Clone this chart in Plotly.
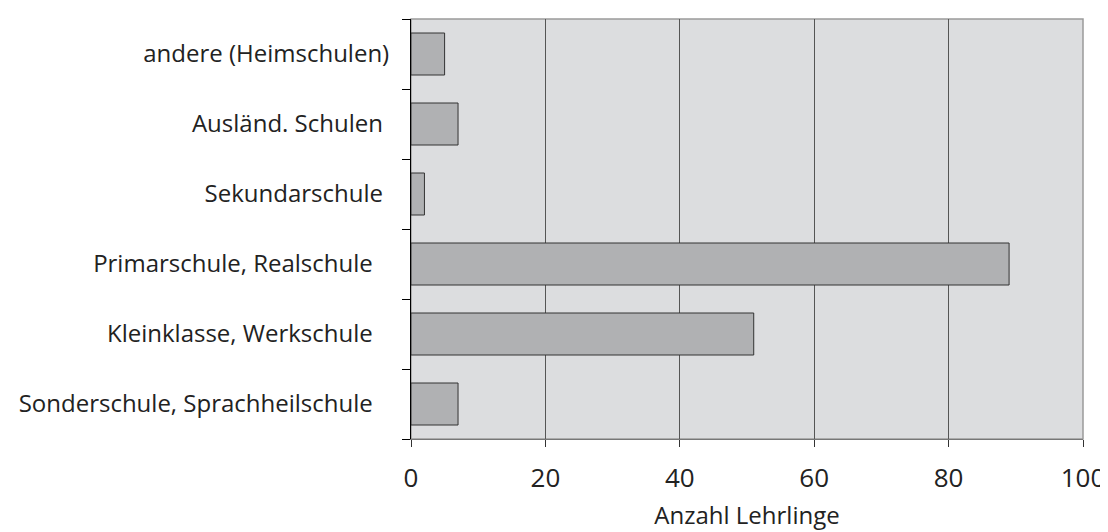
import plotly.graph_objects as go

categories = ["andere (Heimschulen)", "Ausländ. Schulen", "Sekundarschule",
              "Primarschule, Realschule", "Kleinklasse, Werkschule",
              "Sonderschule, Sprachheilschule"]
values = [5, 7, 2, 89, 51, 7]
x_ticks = [0, 20, 40, 60, 80, 100]
x_title = "Anzahl Lehrlinge"
# trailing padding seen after some labels in the original
label_pad = ["", "\u00a0", "\u00a0", "\u00a0\u00a0\u2009", "\u00a0\u00a0\u2009", "\u00a0\u00a0\u2009"]

font_family = "Open Sans"

fig = go.Figure(go.Bar(
    x=values, y=categories, orientation="h",
    marker=dict(color="#b0b1b3", line=dict(color="#333333", width=1)),
    width=0.6,
))

fig.update_layout(
    width=1108, height=532,
    margin=dict(l=402, r=31, t=11, b=101),
    paper_bgcolor="white", plot_bgcolor="#dcdddf",
    showlegend=False,
    font=dict(family=font_family, color="#222222"),
    shapes=[dict(type="rect", xref="paper", yref="paper", x0=0, y0=0, x1=1, y1=1,
                 line=dict(color="#9a9a9a", width=1.5), layer="below")],
)
fig.update_xaxes(
    range=[0, 100], tickvals=x_ticks, ticktext=[str(v) for v in x_ticks],
    showgrid=True, gridcolor="#555555", gridwidth=1, zeroline=False,
    showline=True, linecolor="#777777", linewidth=1,
    ticks="outside", ticklen=7, tickcolor="#333333",
    tickfont=dict(size=26, color="#222222"), ticklabelstandoff=9,
    title=dict(text=x_title, font=dict(size=24, color="#222222"), standoff=12),
)
fig.update_yaxes(
    categoryorder="array", categoryarray=categories, autorange="reversed",
    tickvals=categories, ticktext=[c + p for c, p in zip(categories, label_pad)],
    showgrid=False, zeroline=False,
    showline=True, linecolor="#000000", linewidth=1,
    ticks="outside", ticklen=8, tickcolor="#000000", tickson="boundaries",
    tickfont=dict(size=24, color="#222222"), ticklabelstandoff=16,
)

fig.write_html("out.html")
